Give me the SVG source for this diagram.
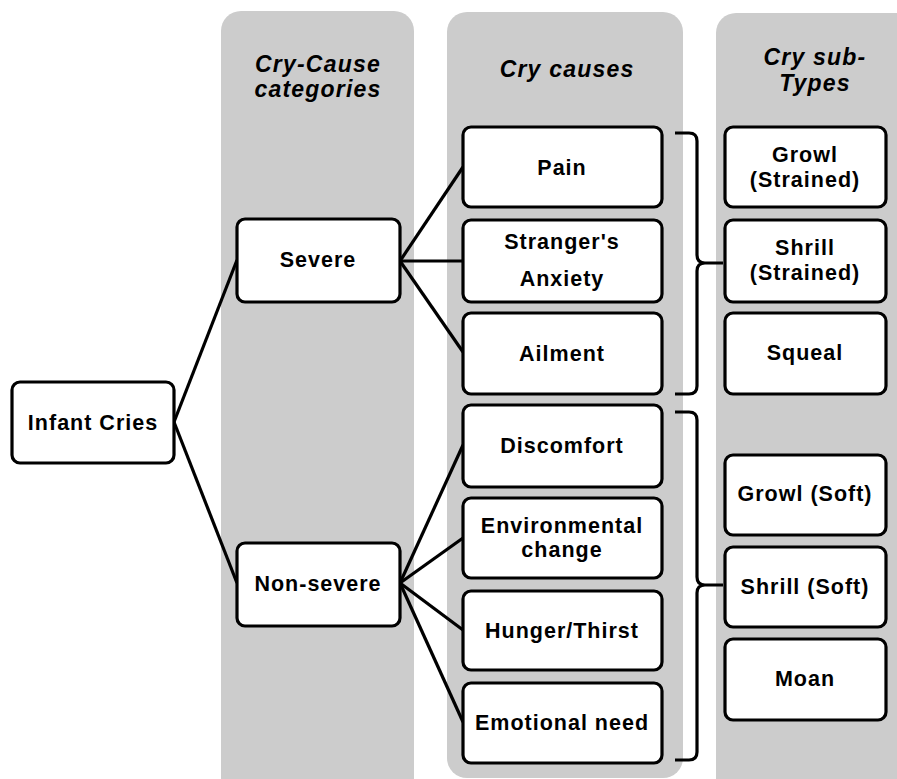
<svg xmlns="http://www.w3.org/2000/svg" width="897" height="779" viewBox="0 0 897 779">
<style>
.panel{fill:#cccccc;}
.node rect{fill:#ffffff;stroke:#000000;stroke-width:3.2;}
.node text{font-family:"Liberation Sans",Arial,sans-serif;font-weight:bold;font-size:21.5px;letter-spacing:1px;text-anchor:middle;fill:#000000;}
.hdr{font-family:"Liberation Sans",Arial,sans-serif;font-weight:bold;font-style:italic;font-size:23px;letter-spacing:1.2px;text-anchor:middle;fill:#000000;}
.conn path,.conn line{stroke:#000000;stroke-width:3.2;fill:none;}
</style>
<rect width="897" height="779" fill="#ffffff"/>
<g id="panels">
<rect class="panel" x="221" y="11" width="193" height="790" rx="20"/>
<rect class="panel" x="447" y="12" width="236" height="766" rx="20"/>
<rect class="panel" x="716" y="13" width="220" height="790" rx="20"/>
<text class="hdr" x="318" y="72">Cry-Cause</text>
<text class="hdr" x="318" y="97">categories</text>
<text class="hdr" x="567" y="77">Cry causes</text>
<text class="hdr" x="815" y="65">Cry sub-</text>
<text class="hdr" x="815" y="91">Types</text>
</g>
<g class="conn" id="connectors">
<line x1="174" y1="422" x2="237" y2="260"/>
<line x1="174" y1="422" x2="237" y2="583"/>
<line x1="400" y1="261" x2="463" y2="167"/>
<line x1="400" y1="261" x2="463" y2="261"/>
<line x1="400" y1="261" x2="463" y2="352"/>
<line x1="400" y1="583" x2="463" y2="445"/>
<line x1="400" y1="583" x2="463" y2="538"/>
<line x1="400" y1="583" x2="463" y2="630"/>
<line x1="400" y1="583" x2="463" y2="722"/>
<path d="M675,133 H689 Q697,133 697,141 V255 Q697,263 705,263 H723 M705,263 Q697,263 697,271 V386 Q697,394 689,394 H675"/>
<path d="M675,412 H689 Q697,412 697,420 V577 Q697,585 705,585 H723 M705,585 Q697,585 697,593 V752 Q697,760 689,760 H675"/>
</g>
<g class="node" id="infant-cries"><rect x="12" y="382" width="162" height="81" rx="8"/><text x="93" y="430">Infant Cries</text></g>
<g class="node" id="severe"><rect x="237" y="219" width="163" height="83" rx="8"/><text x="318" y="267">Severe</text></g>
<g class="node" id="non-severe"><rect x="237" y="543" width="163" height="83" rx="8"/><text x="318" y="591">Non-severe</text></g>
<g class="node" id="pain"><rect x="463" y="127" width="199" height="80" rx="8"/><text x="562" y="175">Pain</text></g>
<g class="node" id="strangers-anxiety"><rect x="463" y="220" width="199" height="82" rx="8"/><text x="562" y="249">Stranger's</text><text x="562" y="286">Anxiety</text></g>
<g class="node" id="ailment"><rect x="463" y="313" width="199" height="81" rx="8"/><text x="562" y="361">Ailment</text></g>
<g class="node" id="discomfort"><rect x="463" y="405" width="199" height="82" rx="8"/><text x="562" y="453">Discomfort</text></g>
<g class="node" id="environmental-change"><rect x="463" y="498" width="199" height="80" rx="8"/><text x="562" y="533">Environmental</text><text x="562" y="557">change</text></g>
<g class="node" id="hunger-thirst"><rect x="463" y="591" width="199" height="79" rx="8"/><text x="562" y="638">Hunger/Thirst</text></g>
<g class="node" id="emotional-need"><rect x="463" y="683" width="199" height="80" rx="8"/><text x="562" y="730">Emotional need</text></g>
<g class="node" id="growl-strained"><rect x="725" y="127" width="161" height="80" rx="8"/><text x="805" y="162">Growl</text><text x="805" y="187">(Strained)</text></g>
<g class="node" id="shrill-strained"><rect x="725" y="220" width="161" height="82" rx="8"/><text x="805" y="255">Shrill</text><text x="805" y="280">(Strained)</text></g>
<g class="node" id="squeal"><rect x="725" y="313" width="161" height="81" rx="8"/><text x="805" y="360">Squeal</text></g>
<g class="node" id="growl-soft"><rect x="725" y="455" width="161" height="80" rx="8"/><text x="805" y="501">Growl (Soft)</text></g>
<g class="node" id="shrill-soft"><rect x="725" y="547" width="161" height="80" rx="8"/><text x="805" y="594">Shrill (Soft)</text></g>
<g class="node" id="moan"><rect x="725" y="639" width="161" height="81" rx="8"/><text x="805" y="686">Moan</text></g>
</svg>
